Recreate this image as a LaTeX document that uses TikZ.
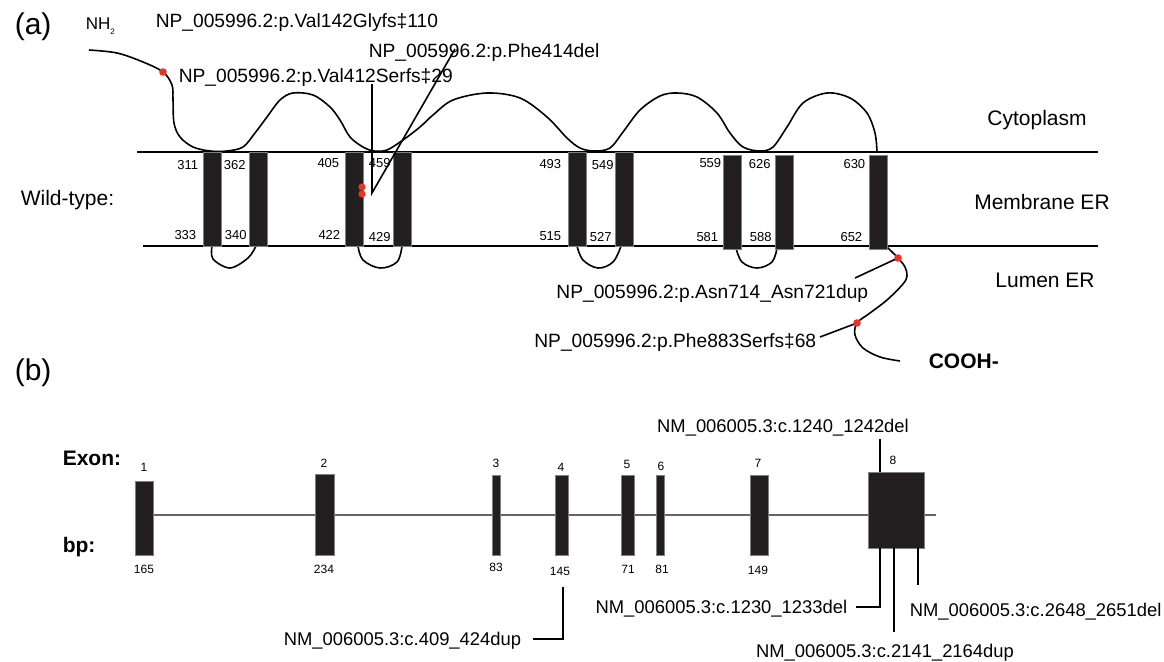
\documentclass[tikz,border=0pt]{standalone}
\usepackage{fontspec}
\setmainfont{Liberation Sans}
\definecolor{barfill}{RGB}{35,31,32}
\definecolor{dotred}{RGB}{237,50,36}

\begin{document}
\begin{tikzpicture}[x=1pt,y=-1pt,line width=1.6pt,
  lab/.style={inner sep=0pt,font=\fontsize{18.4}{20}\selectfont},
  plab/.style={inner sep=0pt,font=\fontsize{19.2}{21}\selectfont},
  region/.style={inner sep=0pt,font=\fontsize{21}{24}\selectfont},
  num/.style={inner sep=0pt,font=\fontsize{13}{15}\selectfont},
  exnum/.style={inner sep=0pt,font=\fontsize{12}{14}\selectfont},
  helix/.style={fill=barfill,draw=gray,line width=.6pt},
  mutdot/.style={fill=dotred,draw=none},
  leader/.style={line width=2.2pt}]
\path[use as bounding box] (0,0) rectangle (1164,661);
% (a) protein in the ER membrane
\node[anchor=base west,inner sep=0pt,font=\fontsize{30}{34}\selectfont] (pa) at (14,35) {(a)};
\node[anchor=base west,inner sep=0pt,font=\fontsize{17}{19}\selectfont] (nh) at (85,30) {NH\raisebox{-5pt}{\fontsize{8}{8}\selectfont 2}};
\node[plab,anchor=base west] (m142) at (155,28) {NP\_005996.2:p.Val142Glyfs‡110};
\node[plab,anchor=base west] (m414) at (368,57) {NP\_005996.2:p.Phe414del};
\node[plab,anchor=base west] (m412) at (178,82) {NP\_005996.2:p.Val412Serfs‡29};
\node[region,anchor=base] (cyto) at (1037,125) {Cytoplasm};
\node[region,anchor=base west] (wt) at (20,205) {Wild-type:};
\node[region,anchor=base] (memb) at (1042,209) {Membrane ER};
\node[region,anchor=base] (lum) at (1045,287) {Lumen ER};
\draw (137,152) -- (1098,152);
\draw (143,246) -- (1098,246);
% cytoplasmic side
\draw plot[smooth,tension=.55] coordinates {(89,50) (117,53) (143,62) (163,72) (172,85) (173,100) (174,123) (180,137) (193,147) (210,151) (227,151) (243,147) (255,133) (267,117) (280,100) (293,93) (313,95) (330,107) (340,120) (350,137) (363,147) (374,151) (387,150) (403,140) (420,127) (433,115) (453,100) (487,93) (520,98) (547,117) (567,138) (580,148) (594,151) (610,148) (623,132) (640,110) (660,96) (677,93) (697,97) (717,113) (730,133) (743,147) (760,151) (773,147) (787,127) (803,103) (827,93) (850,98) (867,113) (875,133) (877,152)};
% lumen side
\draw plot[smooth,tension=.55] coordinates {(212,246) (213,259) (230,268) (248,258) (256,246)};
\draw plot[smooth,tension=.6] coordinates {(358,246) (363,260) (380,268) (397,262) (402,246)};
\draw plot[smooth,tension=.6] coordinates {(577,246) (583,260) (598,268) (613,262) (621,246)};
\draw plot[smooth,tension=.6] coordinates {(736,248) (742,262) (757,268) (772,262) (777,248)};
\draw plot[smooth,tension=.55] coordinates {(887,247) (898,258) (905,267) (907,276) (903,284) (887,300) (870,313) (857,323) (855,335) (863,348) (880,357) (900,361)};
\foreach \xa in {203,249,345,393,568,615}
  \draw[helix] (\xa,152) rectangle ++(18,94);
\foreach \xa in {723,775,869}
  \draw[helix] (\xa,155) rectangle ++(18,94);
\foreach \xa/\ya/\t in {199/169/311,197/239/333,340/167/405,341/239/422,562/168/493,562/240/515,722/167/559,719/241/581,866/168/630,863/241/652}
  \node[num,anchor=base east] (n\t) at (\xa,\ya) {\t};
\foreach \xa/\ya/\t in {223/169/362,224/239/340,368/167/459,368/241/429,591/169/549,589/241/527,748/168/626,749/241/588}
  \node[num,anchor=base west] (n\t) at (\xa,\ya) {\t};
% mutations
\coordinate (v412) at (372,84);
\coordinate (v414) at (455,49);
\coordinate (tip) at (372,193);
\draw (v412) -- (tip) -- (v414);
\coordinate (dN) at (163,72);
\coordinate (d714) at (898,258);
\coordinate (d883) at (857,323);
\node[plab,anchor=base east] (m714) at (869,298) {NP\_005996.2:p.Asn714\_Asn721dup};
\node[plab,anchor=base east] (m883) at (817,347) {NP\_005996.2:p.Phe883Serfs‡68};
\coordinate (e714) at (855,278);
\coordinate (e883) at (820,337);
\draw (d714) -- (e714);
\draw (d883) -- (e883);
\node[anchor=base west,inner sep=0pt,font=\bfseries\fontsize{21}{24}\selectfont] (cooh) at (928,368) {COOH-};
\foreach \p in {dN,d714,d883}
  \fill[mutdot] (\p) circle (3.8);
\fill[mutdot] (362,187) circle (3.6);
\fill[mutdot] (362,194) circle (3.6);
% (b) gene
\node[anchor=base west,inner sep=0pt,font=\fontsize{30}{34}\selectfont] (pb) at (14,380) {(b)};
\node[anchor=base west,inner sep=0pt,font=\bfseries\fontsize{21}{24}\selectfont] (exon) at (62,465) {Exon:};
\node[anchor=base west,inner sep=0pt,font=\bfseries\fontsize{21}{24}\selectfont] (bp) at (62,552) {bp:};
\draw[draw=black!60,line width=1.4pt] (144,515) -- (936,515);
\foreach \xa/\ya/\w in {135/481/18,315/474/19,492/475/8,555/475/13,621/475/13,656/475/8,750/475/18}
  \draw[helix] (\xa,\ya) rectangle ({\xa+\w},555);
\draw[helix] (868,472) rectangle (924,548);
\foreach \xa/\ya/\t in {144/471/1,324/467/2,496/467/3,561/471/4,627/468/5,661/470/6,758/467/7,893/464/8}
  \node[exnum,anchor=base] (x\t) at (\xa,\ya) {\t};
\foreach \xa/\ya/\t in {144/573/165,324/573/234,496/571/83,560/575/145,628/573/71,662/573/81,758/574/149}
  \node[exnum,anchor=base] (b\t) at (\xa,\ya) {\t};
\node[lab,anchor=base west] (c409) at (283,645) {NM\_006005.3:c.409\_424dup};
\node[lab,anchor=base] (c1240) at (783,432) {NM\_006005.3:c.1240\_1242del};
\node[lab,anchor=base east] (c1230) at (848,613) {NM\_006005.3:c.1230\_1233del};
\node[lab,anchor=base] (c2141) at (885,657) {NM\_006005.3:c.2141\_2164dup};
\node[lab,anchor=base west] (c2648) at (909,616) {NM\_006005.3:c.2648\_2651del};
\draw[leader] (880,439) -- (880,472);
\draw[leader] (880,548) |- (856,607);
\draw[leader] (894,548) -- (894,632);
\draw[leader] (918,548) -- (918,585);
\draw[leader] (563,587) |- (533,639);
\end{tikzpicture}
\end{document}
